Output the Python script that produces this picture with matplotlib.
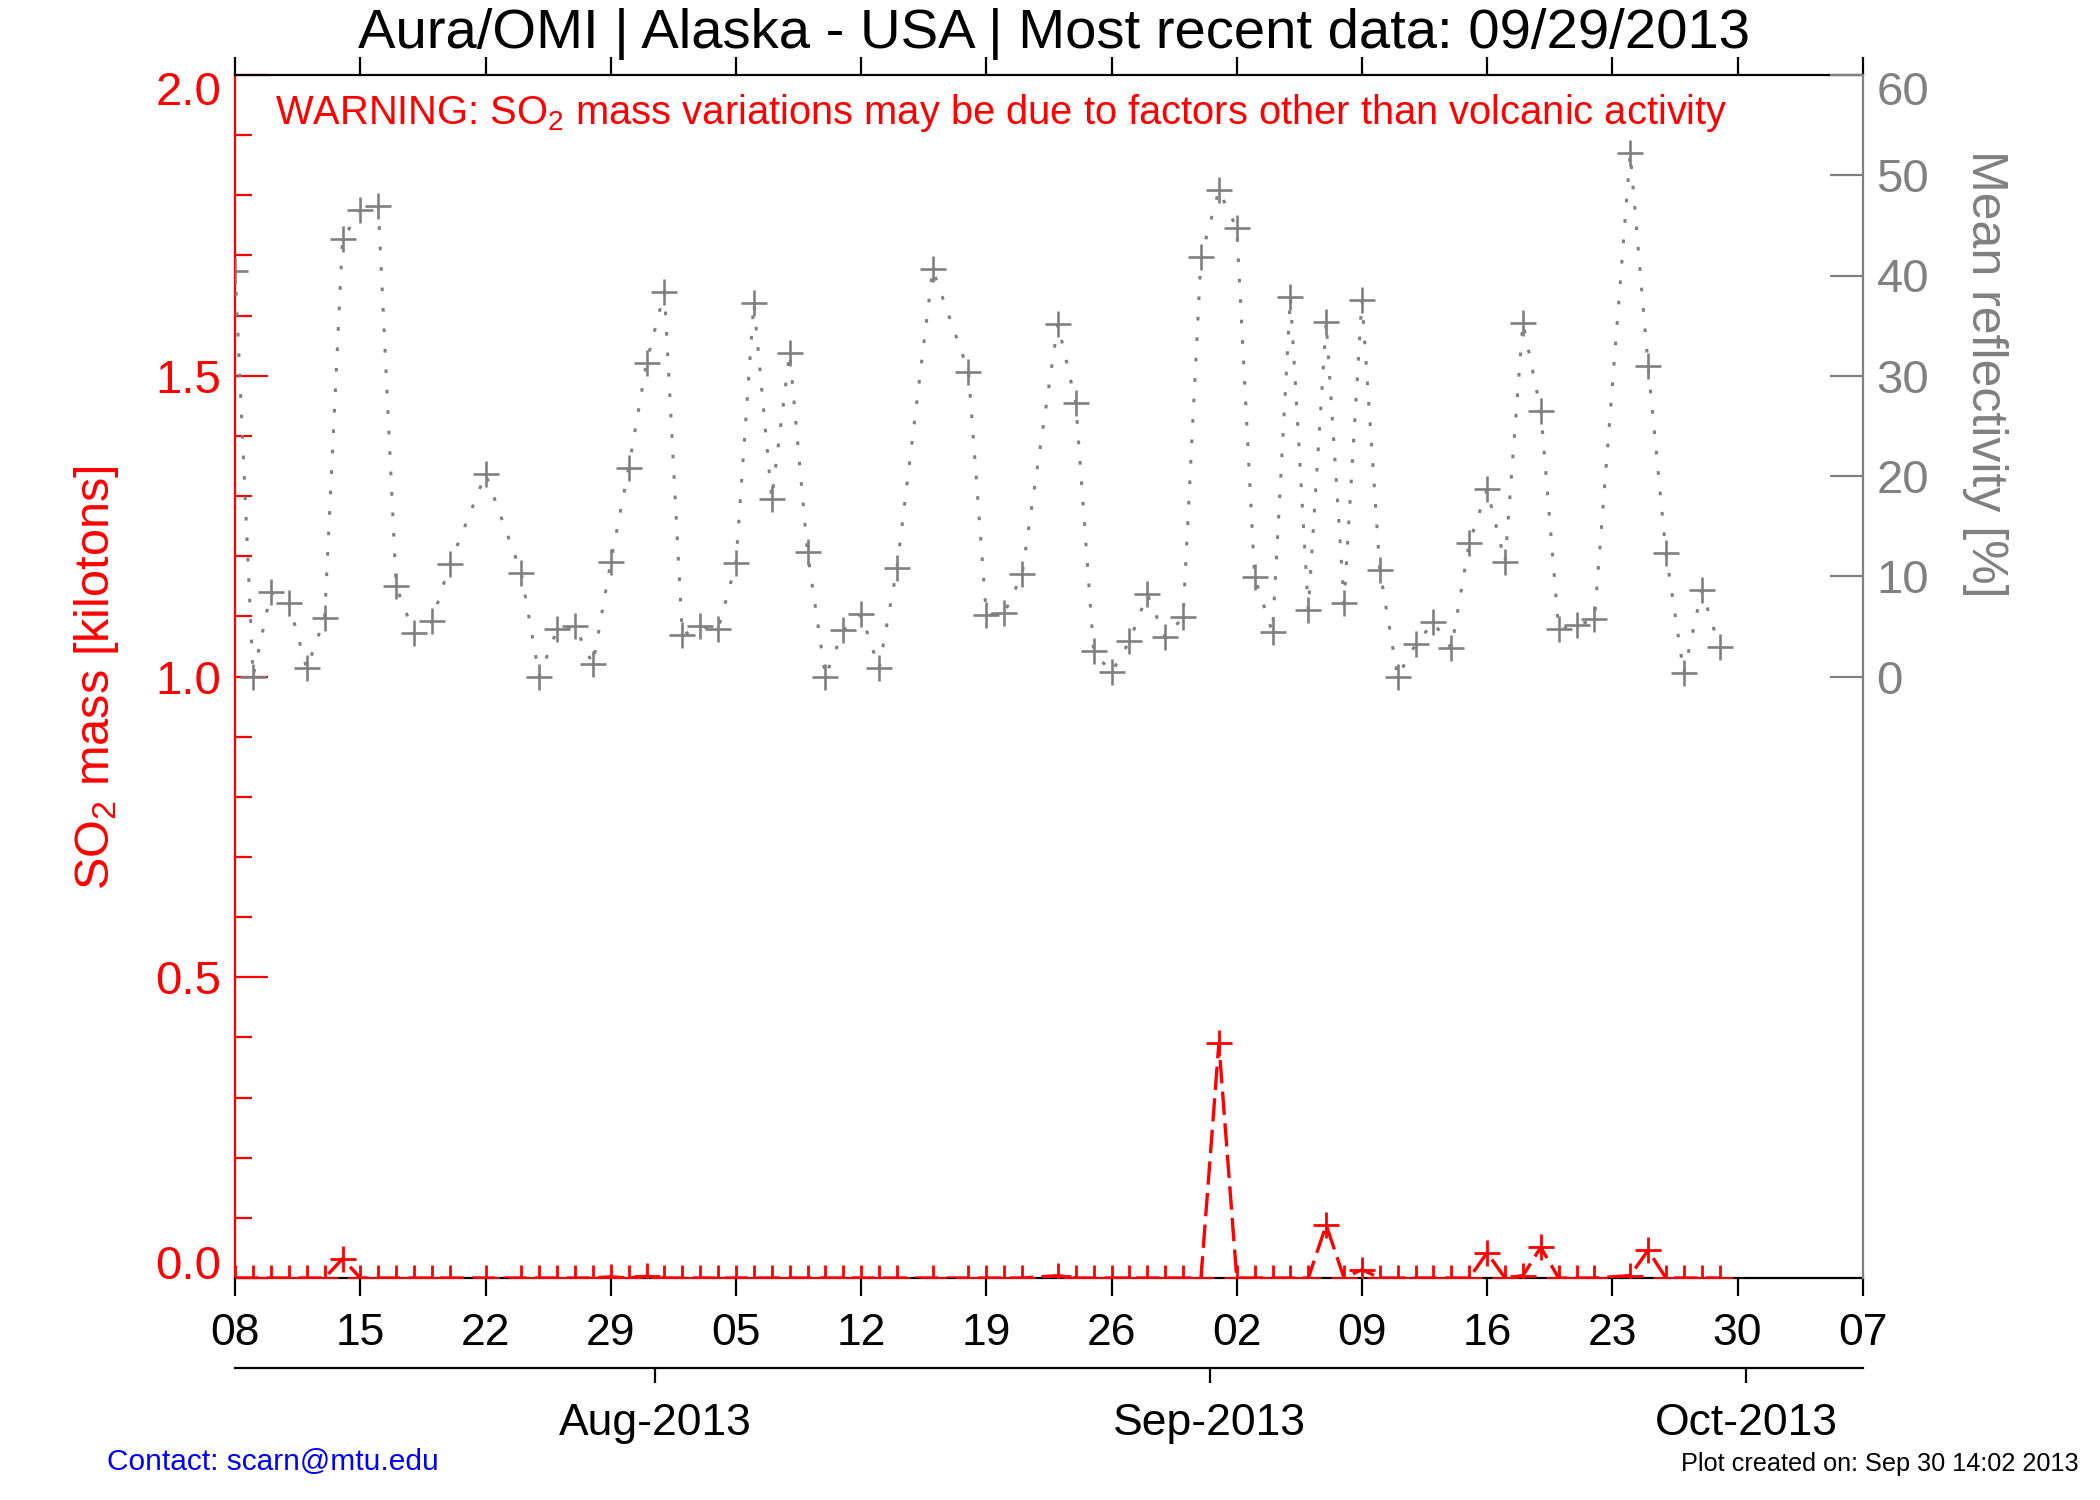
import numpy as np
import pandas as pd
import matplotlib
matplotlib.use('Agg')
import matplotlib.pyplot as plt
import matplotlib.dates as mdates
from matplotlib.transforms import ScaledTranslation

plt.rcParams['font.family'] = ['Liberation Sans', 'DejaVu Sans']
plt.rcParams['mathtext.fontset'] = 'custom'
plt.rcParams['mathtext.rm'] = 'Liberation Sans'
plt.rcParams['mathtext.it'] = 'Liberation Sans:italic'

# overpass days (days without data are dropped)
all_days = pd.date_range('2013-07-08', '2013-09-29', freq='D')
missing_days = pd.to_datetime(['2013-07-21', '2013-07-23', '2013-08-15',
                               '2013-08-17', '2013-08-22', '2013-09-23'])
obs_dates = all_days.drop(missing_days)

# mean reflectivity [%], one row per week
reflectivity = [40.4, 0, 8.4, 7.3, 0.8, 5.8, 43.6,
                46.5, 46.9, 9.0, 4.3, 5.5, 11.2,
                20.2, 10.3, 0, 4.7, 5.0, 1.2,
                11.4, 20.8, 31.3, 38.4, 4.1, 5.0, 4.7,
                11.3, 37.3, 17.7, 32.3, 12.4, 0, 4.6,
                6.2, 0.8, 10.8, 40.6, 30.4,
                6.1, 6.3, 10.2, 35.2, 27.3, 2.5,
                0.4, 3.5, 8.2, 3.9, 5.9, 41.8, 48.5,
                44.7, 9.9, 4.4, 37.9, 6.6, 35.4, 7.3,
                37.6, 10.6, 0, 3.2, 5.4, 2.8, 13.3,
                18.7, 11.4, 35.3, 26.5, 4.7, 5.1, 5.7,
                52.2, 31.0, 12.3, 0.3, 8.6, 2.9]

# SO2 mass [kilotons]
so2_mass = [0, 0, 0, 0, 0, 0, 0.032,
            0, 0, 0, 0, 0, 0,
            0, 0, 0, 0, 0, 0,
            0.002, 0, 0.003, 0, 0, 0, 0,
            0, 0, 0, 0, 0, 0, 0,
            0, 0, 0, 0, 0,
            0, 0, 0, 0.004, 0, 0,
            0, 0, 0, 0, 0, 0, 0.39,
            0, 0, 0, 0, 0, 0.088, 0,
            0.014, 0, 0, 0, 0, 0, 0,
            0.042, 0, 0.004, 0.051, 0, 0, 0,
            0.004, 0.046, 0, 0, 0, 0]

week_ticks = pd.date_range('2013-07-08', '2013-10-07', freq='7D')
month_ticks = pd.to_datetime(['2013-08-01', '2013-09-01', '2013-10-01'])
month_labels = ['Aug-2013', 'Sep-2013', 'Oct-2013']

RED = '#ff0000'
GRAY = '#808080'

fig = plt.figure(figsize=(21, 15), dpi=100)
ax = fig.add_axes([0.112, 0.148, 0.775, 0.802])
ax2 = ax.twinx()

# SO2 mass
ax.plot(obs_dates, so2_mass, color=RED, lw=2.4, linestyle=(0, (7, 2.5)),
        marker='+', ms=19, mew=2.0, zorder=3)
ax.set_ylim(0, 2.0)
ax.set_xlim(week_ticks[0], week_ticks[-1])
ax.set_yticks(np.arange(0, 2.01, 0.5))
ax.set_yticks(np.arange(0, 2.01, 0.1), minor=True)
ax.set_yticklabels(['0.0', '0.5', '1.0', '1.5', '2.0'])
ax.tick_params(axis='y', which='major', direction='in', length=24, width=1.6,
               color=RED, labelcolor=RED, labelsize=34, pad=10)
ax.tick_params(axis='y', which='minor', direction='in', length=12, width=1.6, color=RED)
ax.set_xticks(week_ticks)
ax.xaxis.set_major_formatter(mdates.DateFormatter('%d'))
ax.xaxis.set_minor_locator(matplotlib.ticker.NullLocator())
ax.tick_params(axis='x', which='major', direction='out', length=13, width=1.6,
               labelsize=32, pad=12, top=True)
ax.spines['left'].set_color(RED)
ax.spines['right'].set_visible(False)
for s in ['left', 'bottom', 'top']:
    ax.spines[s].set_linewidth(1.6)

# reflectivity
ax2.plot(obs_dates, reflectivity, color=GRAY, lw=2.2, linestyle=(0, (1.2, 5.5)),
         marker='+', ms=19, mew=1.9, zorder=2)
ax2.set_ylim(-60, 60)
ax2.set_yticks(np.arange(0, 61, 10))
ax2.tick_params(axis='y', direction='in', length=24, width=1.6,
                color=GRAY, labelcolor=GRAY, labelsize=34, pad=10)
for s in ['left', 'bottom', 'top']:
    ax2.spines[s].set_visible(False)
ax2.spines['right'].set_color(GRAY)
ax2.spines['right'].set_linewidth(1.6)

# end labels sit a little inside the axis range, as in the original
def nudge(label, dy_px):
    label.set_transform(label.get_transform() + ScaledTranslation(0, dy_px / 100, fig.dpi_scale_trans))

ylabels = ax.get_yticklabels()
nudge(ylabels[0], 16)
nudge(ylabels[-1], -13)
nudge(ax2.get_yticklabels()[-1], -13)

# month axis below the day axis (ticks at the julian-day noon boundary)
sec = ax.secondary_xaxis(-0.075)
sec.set_xticks(mdates.date2num(month_ticks - pd.Timedelta(hours=12)))
sec.set_xticklabels(month_labels)
sec.tick_params(axis='x', direction='out', length=11, width=1.6, labelsize=32, pad=14)
sec.xaxis.set_minor_locator(matplotlib.ticker.NullLocator())
sec.spines['bottom'].set_linewidth(1.6)

fig.text(0.502, 0.977, 'Aura/OMI | Alaska - USA | Most recent data: 09/29/2013',
         ha='center', va='center', fontsize=40.5)
fig.text(0.131, 0.925, 'WARNING: SO$_2$ mass variations may be due to factors other than volcanic activity',
         ha='left', va='center', fontsize=28.7, color=RED)
fig.text(0.046, 0.548, 'SO$_2$ mass [kilotons]', rotation=90, ha='center', va='center',
         fontsize=35, color=RED)
fig.text(0.945, 0.751, 'Mean reflectivity [%]', rotation=-90, ha='center', va='center',
         fontsize=36, color=GRAY)
fig.text(0.051, 0.025, 'Contact: scarn@mtu.edu', ha='left', va='center', fontsize=21.5, color='#0000ff')
fig.text(0.99, 0.024, 'Plot created on: Sep 30 14:02 2013', ha='right', va='center', fontsize=18.2)

fig.savefig('out.png', dpi=100)
